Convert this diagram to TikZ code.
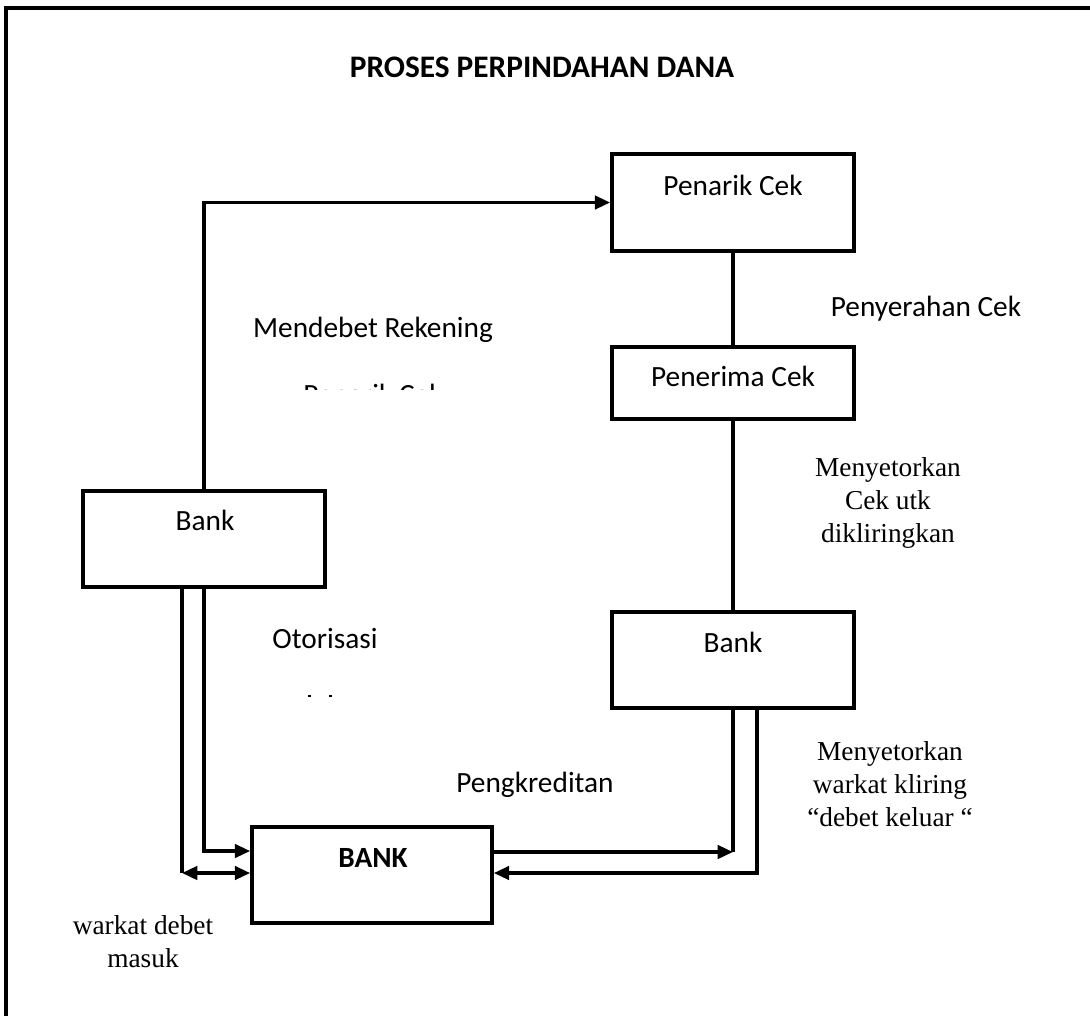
\documentclass[tikz,border=0pt]{standalone}
\usepackage{fontspec}
\setmainfont{Carlito}
\newfontfamily\serifface{Liberation Serif}
\usetikzlibrary{arrows.meta}
\begin{document}
\begin{tikzpicture}[x=0.75pt,y=-0.75pt,
  boxstyle/.style={draw,line width=2.7pt,rectangle,inner sep=0pt},
  wire/.style={line width=2.6pt},
  tip/.style={-{Triangle[length=11.5pt,width=10pt]}},
  label/.style={inner sep=0pt,anchor=base,font=\fontsize{22}{26}\selectfont},
  note/.style={inner sep=0pt,align=center,font=\serifface\fontsize{20.5}{24.75}\selectfont}]
\useasboundingbox (0,0) rectangle (1090,1015);

% frame (top and left edges)
\draw[line width=2.6pt] (6,1030) -- (6,8) -- (1100,8);

% title
\node[label,font=\bfseries\fontsize{23.5}{27}\selectfont] (title) at (542,77) {PROSES PERPINDAHAN DANA};

% boxes
\node[boxstyle,minimum width=181.5pt,minimum height=72.75pt] (pc) at (733,202.5) {};
\node[boxstyle,minimum width=181.5pt,minimum height=54pt] (pe) at (733,383) {};
\node[boxstyle,minimum width=181.5pt,minimum height=72pt] (bk2) at (733,660) {};
\node[boxstyle,minimum width=181.5pt,minimum height=72pt] (bk1) at (204,539) {};
\node[boxstyle,minimum width=180pt,minimum height=72pt] (bank) at (372,875) {};

% box texts
\node[label] (pctext) at (733,195) {Penarik Cek};
\node[label] (petext) at (733,386) {Penerima Cek};
\node[label] (bk1text) at (205,530) {Bank};
\node[label] (bk2text) at (733,652) {Bank};
\node[label,font=\bfseries\fontsize{22}{26}\selectfont] (banktext) at (373,867) {BANK};

% connector labels
\node[label] (l1) at (373,337) {Mendebet Rekening};
\begin{scope}
  \clip (250,383) rectangle (500,389);
  \node[label] (l1b) at (373,404) {Penarik Cek};
\end{scope}
\node[label] (l2) at (325,648) {Otorisasi};
\fill (308,695) rectangle (311,697);
\fill (329,695) rectangle (332,697);
\node[label] (l3) at (926,316) {Penyerahan Cek};
\node[label] (l4) at (535,792) {Pengkreditan};
\node[note] (n1) at (888,503) {Menyetorkan\\Cek utk\\dikliringkan};
\node[note] (n2) at (890,784) {Menyetorkan\\warkat kliring\\“debet keluar “};
\node[note] (n3) at (143,942) {warkat debet\\masuk};

% connectors
\draw[wire,tip] (bk1.north) |- (pc.west);
\draw[wire] (pc.south) -- (pe.north);
\draw[wire] (pe.south) -- (pe.south |- bk2.north);

\coordinate (lo) at (182,873);
\coordinate (li) at (204,851);
\draw[wire] (bk1.south -| lo) -- (lo);
\draw[wire,{Triangle[length=11.5pt,width=10pt]}-{Triangle[length=11.5pt,width=10pt]}] (lo) -- (bank.west |- lo);
\draw[wire,tip] (bk1.south -| li) |- (bank.west |- li);

\coordinate (ri) at (733,852);
\coordinate (ro) at (757,873);
\draw[wire] (bk2.south -| ri) -- (ri);
\draw[wire,tip] (bank.east |- ri) -- (ri);
\draw[wire,tip] (bk2.south -| ro) |- (bank.east |- ro);
\end{tikzpicture}
\end{document}
